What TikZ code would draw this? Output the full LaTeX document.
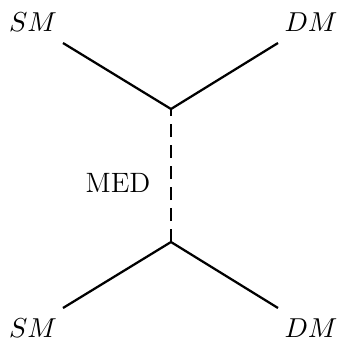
\documentclass[tikz,border=0pt]{standalone}
\begin{document}
\begin{tikzpicture}[x=0.4pt,y=-0.4pt,
  fermion/.style={line width=0.9pt},
  mediator/.style={line width=0.9pt,dash pattern=on 5.2pt off 3.2pt},
  lbl/.style={inner sep=0pt,font=\fontsize{11.2}{13}\selectfont}]
\useasboundingbox (0,0) rectangle (340,343);
\coordinate (v1) at (171,109);
\coordinate (v2) at (171,242);
\coordinate (a) at (63,43);
\coordinate (b) at (278,43);
\coordinate (c) at (63,308);
\coordinate (d) at (278,308);
\node[lbl] (la) at (33,22) {$SM$};
\node[lbl] (lb) at (311,22) {$DM$};
\node[lbl] (lc) at (33,328) {$SM$};
\node[lbl] (ld) at (311,328) {$DM$};
\node[lbl] (med) at (118,183) {MED};
\draw[fermion] (a) -- (v1) -- (b);
\draw[fermion] (c) -- (v2) -- (d);
\draw[mediator] (v2) -- (v1);
\end{tikzpicture}
\end{document}
